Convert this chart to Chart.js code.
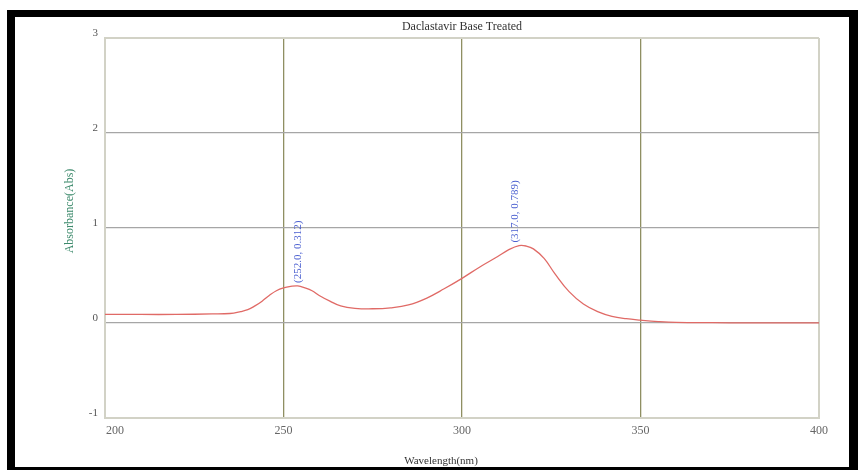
<!DOCTYPE html>
<html>
<head>
<meta charset="utf-8">
<script src="https://cdn.jsdelivr.net/npm/chart.js@4/dist/chart.umd.min.js"></script>
<style>
  html, body { margin: 0; padding: 0; background: #fff; }
  #wrap { position: relative; width: 861px; height: 470px; }
  .band { position: absolute; background: #000; }
</style>
</head>
<body>
<div id="wrap">
  <canvas id="spectrum"></canvas>
  <div class="band" style="left:7px; top:10px; width:851px; height:7px;"></div>
  <div class="band" style="left:7px; top:10px; width:8px; height:460px;"></div>
  <div class="band" style="left:7px; top:467px; width:851px; height:3px;"></div>
  <div class="band" style="left:849px; top:10px; width:9px; height:460px;"></div>
</div>
<script>
// spectrum
const wavelengths = [200, 210, 220, 230, 235, 238, 240, 242, 244, 246, 248, 250, 252, 254, 256, 258, 260, 263, 266, 270,
  275, 280, 285, 290, 295, 300, 305, 310, 313, 316, 318, 320, 323, 326, 330, 334, 338, 342, 346, 350,
  355, 360, 370, 380, 390, 400];
const absorbance = [0.09, 0.09, 0.09, 0.095, 0.10, 0.12, 0.14, 0.18, 0.23, 0.29, 0.34, 0.37, 0.385, 0.39, 0.37, 0.34, 0.29, 0.23, 0.18, 0.155,
  0.15, 0.16, 0.19, 0.26, 0.36, 0.47, 0.59, 0.70, 0.77, 0.815, 0.81, 0.78, 0.68, 0.52, 0.33, 0.20, 0.12, 0.07, 0.045, 0.03,
  0.015, 0.006, 0.003, 0.002, 0.002, 0.002];

const peakX = [252.0, 317.0];
const peakLabels = ['(252.0, 0.312)', '(317.0, 0.789)'];
const peakY = [0.39, 0.815];

const xTicks = [200, 250, 300, 350, 400];

const chartTitle = 'Daclastavir Base Treated';
const xTitle = 'Wavelength(nm)';
const yTitle = 'Absorbance(Abs)';

const frameColor = '#d2d2c6';
const serif = '"Liberation Serif", "DejaVu Serif", serif';

const points = wavelengths.map((w, i) => ({ x: w, y: absorbance[i] }));

// titles, x labels and peak notes
const textPlugin = {
  id: 'texts',
  afterDraw(chart) {
    const { ctx, chartArea, scales } = chart;
    const xs = scales.x;
    ctx.save();

    ctx.fillStyle = '#333';
    ctx.font = '12px ' + serif;
    ctx.textAlign = 'center';
    ctx.textBaseline = 'middle';
    ctx.fillText(chartTitle, (chartArea.left + chartArea.right) / 2, 27);

    ctx.font = '11px ' + serif;
    ctx.fillText(xTitle, 441, 461);

    ctx.fillStyle = '#666';
    ctx.font = '12px ' + serif;
    xTicks.forEach((t, i) => {
      const px = xs.getPixelForValue(t);
      ctx.textAlign = i === 0 ? 'left' : 'center';
      ctx.fillText(String(t), i === 0 ? px + 1 : px, 431);
    });

    ctx.save();
    ctx.translate(70, 211);
    ctx.rotate(-Math.PI / 2);
    ctx.fillStyle = '#3d8a6c';
    ctx.font = '12px ' + serif;
    ctx.textAlign = 'center';
    ctx.fillText(yTitle, 0, 0);
    ctx.restore();

    const dx = [7, -8];
    ctx.fillStyle = '#4a5fd0';
    ctx.font = '11px ' + serif;
    peakX.forEach((w, i) => {
      const px = xs.getPixelForValue(w) + dx[i];
      const py = scales.y.getPixelForValue(peakY[i]) - 3;
      ctx.save();
      ctx.translate(px, py);
      ctx.rotate(-Math.PI / 2);
      ctx.textAlign = 'left';
      ctx.textBaseline = 'middle';
      ctx.fillText(peakLabels[i], 0, 0);
      ctx.restore();
    });

    ctx.restore();
  }
};

new Chart(document.getElementById('spectrum'), {
  type: 'line',
  data: {
    datasets: [{
      data: points,
      borderColor: '#e06a66',
      borderWidth: 1.3,
      pointRadius: 0,
      tension: 0.4,
      fill: false
    }]
  },
  options: {
    responsive: true,
    maintainAspectRatio: false,
    animation: false,
    layout: { padding: { left: 15, right: 42, top: 38, bottom: 0 } },
    plugins: {
      legend: { display: false },
      tooltip: { enabled: false },
      title: { display: false }
    },
    scales: {
      x: {
        type: 'linear',
        min: 200,
        max: 400,
        afterFit: scale => { scale.height = 52; },
        ticks: { display: false, stepSize: 50 },
        grid: {
          drawTicks: false,
          color: c => (c.tick.value === 200 || c.tick.value === 400) ? frameColor : '#8f8f62',
          lineWidth: c => (c.tick.value === 200 || c.tick.value === 400) ? 2 : 1.3
        },
        border: { color: frameColor, width: 2 }
      },
      y: {
        min: -1,
        max: 3,
        afterFit: scale => { scale.width = 90; },
        ticks: {
          stepSize: 1,
          padding: 7,
          labelOffset: -5,
          color: '#555',
          font: { family: serif, size: 11 }
        },
        grid: {
          drawTicks: false,
          color: c => (c.tick.value === 3 || c.tick.value === -1) ? frameColor : '#a6a6a6',
          lineWidth: c => (c.tick.value === 3 || c.tick.value === -1) ? 2 : 1.2
        },
        border: { color: frameColor, width: 2 }
      }
    }
  },
  plugins: [textPlugin]
});
</script>
</body>
</html>
